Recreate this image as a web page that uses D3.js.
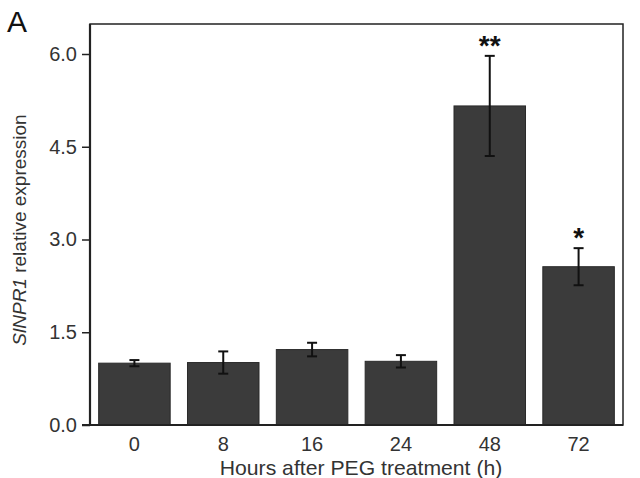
<!DOCTYPE html>
<html><head><meta charset="utf-8">
<script src="https://cdn.jsdelivr.net/npm/d3@7/dist/d3.min.js"></script>
<style>body{margin:0;background:#fff}svg{display:block}text{font-family:"Liberation Sans",Arial,sans-serif;fill:#222}</style>
</head><body><svg id="c" width="640" height="478"></svg>
<script>
const categories = ["0","8","16","24","48","72"];
const values = [1.00, 1.01, 1.22, 1.03, 5.16, 2.56];
const errors = [0.05, 0.18, 0.11, 0.10, 0.81, 0.30];
const signif = ["", "", "", "", "**", "*"];
const yTicks = [0, 1.5, 3.0, 4.5, 6.0];

const svg = d3.select("#c");
const L = 90, R = 623, T = 24, B = 425;
const x = d3.scaleBand().domain(categories).range([L, R]).paddingInner(0.195).paddingOuter(0.0975);
const y = d3.scaleLinear().domain([0, 6.0]).range([B, 54]);

// frame
svg.append("rect").attr("x", L).attr("y", T).attr("width", R - L).attr("height", B - T)
  .attr("fill", "none").attr("stroke", "#222").attr("stroke-width", 1.5);

// bars
svg.selectAll("rect.bar").data(values).join("rect").attr("class", "bar")
  .attr("x", (d, i) => x(categories[i])).attr("width", x.bandwidth())
  .attr("y", d => y(d)).attr("height", d => B - y(d))
  .attr("fill", "#3b3b3b").attr("stroke", "#2a2a2a").attr("stroke-width", 1);

// error bars
const eb = svg.append("g").attr("stroke", "#111").attr("stroke-width", 2);
values.forEach((v, i) => {
  const cx = x(categories[i]) + x.bandwidth() / 2;
  const e = errors[i];
  eb.append("line").attr("x1", cx).attr("x2", cx).attr("y1", y(v + e)).attr("y2", y(v - e));
  eb.append("line").attr("x1", cx - 5).attr("x2", cx + 5).attr("y1", y(v + e)).attr("y2", y(v + e));
  eb.append("line").attr("x1", cx - 5).attr("x2", cx + 5).attr("y1", y(v - e)).attr("y2", y(v - e));
  if (signif[i]) {
    svg.append("text").attr("x", cx).attr("y", y(v + e) - 1).attr("text-anchor", "middle")
      .attr("font-size", 28).attr("font-weight", "bold").style("fill", "#111").text(signif[i]);
  }
});

// y axis
const ya = svg.append("g").attr("transform", `translate(${L},0)`)
  .call(d3.axisLeft(y).tickValues(yTicks).tickFormat(d3.format(".1f")).tickSize(8).tickPadding(5));
ya.select(".domain").remove();
ya.selectAll("line").attr("stroke", "#222").attr("stroke-width", 1.5);
ya.selectAll("text").attr("font-size", 20).style("fill", "#333");
svg.append("line").attr("x1", L).attr("x2", L).attr("y1", T).attr("y2", B).attr("stroke", "#222").attr("stroke-width", 2.2);
svg.append("line").attr("x1", L - 8).attr("x2", R).attr("y1", B).attr("y2", B).attr("stroke", "#222").attr("stroke-width", 2.2);

// x axis labels
const xa = svg.append("g").attr("transform", `translate(0,${B})`)
  .call(d3.axisBottom(x).tickSize(0).tickPadding(12));
xa.select(".domain").remove();
xa.selectAll("text").attr("font-size", 20).style("fill", "#333");

svg.append("text").attr("transform", "translate(361,475) scale(1.06,1)").attr("text-anchor", "middle")
  .attr("font-size", 20).style("fill", "#333").text("Hours after PEG treatment (h)");

const yl = svg.append("text").attr("transform", `translate(26,230) rotate(-90)`)
  .attr("text-anchor", "middle").attr("font-size", 19).style("fill", "#333");
yl.append("tspan").attr("font-style", "italic").text("SlNPR1");
yl.append("tspan").text(" relative expression");

svg.append("text").attr("x", 7).attr("y", 32).attr("font-size", 30).style("fill", "#111").text("A");
</script></body></html>
